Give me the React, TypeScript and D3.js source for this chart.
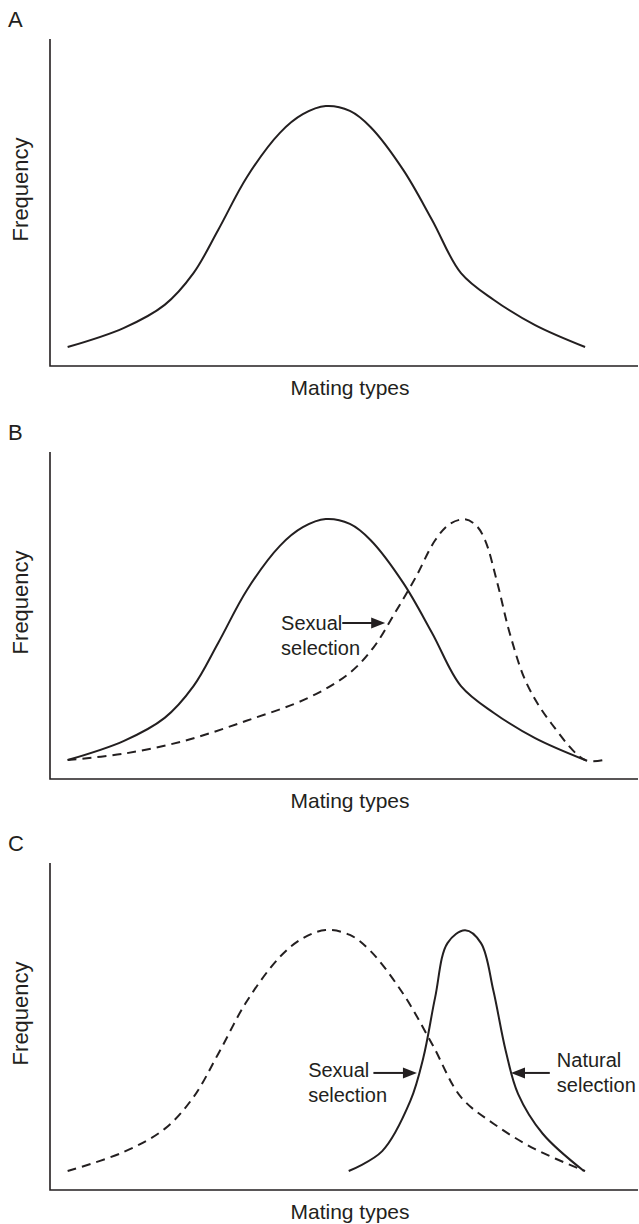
import React, { useEffect, useRef } from 'react';
import * as d3 from 'd3';

type Pt = [number, number];

// [mating type (0-100 along the axis), frequency (0-100 up the axis)]
const wideCurve: Pt[] = [
  [3, 5.8], [12.5, 11.6], [19.5, 18.7], [24.4, 28.4], [28.6, 41.6], [33.5, 57.8],
  [39.1, 71.3], [43, 77], [46.9, 79.5], [51, 78], [54.5, 73.1], [60.1, 59.9],
  [65, 44.6], [69.9, 28.4], [75.5, 20.2], [82.5, 12.5], [91, 5.8],
];

const shiftedCurve: Pt[] = [
  [3, 5.8], [12.4, 7.7], [22.9, 11.7], [33.4, 17.8], [43.9, 24.8], [50.8, 32.2],
  [55, 40.2], [58.6, 50.6], [62.2, 61.7], [65.5, 73], [68, 78], [70.6, 79.4],
  [72.5, 77.5], [74, 73], [76.1, 59.8], [78.2, 44.5], [81.1, 29.1], [85.3, 16.9],
  [91, 5.8], [94.1, 5.8],
];

const narrowCurve: Pt[] = [
  [50.8, 5.8], [56.5, 11.9], [61.3, 27.3], [63.5, 40.5], [65.5, 58.9], [67.6, 75.5],
  [70.6, 79.4], [73.3, 75.5], [75.4, 61], [77.5, 42.6], [79.6, 29.4], [83.8, 17.2],
  [90.8, 5.8],
];

const panelLabels = ['A', 'B', 'C'];
const xTitle = 'Mating types';
const yTitle = 'Frequency';

interface Note {
  lines: string[];
  text: Pt;
  from: Pt;
  to: Pt;
}

interface Panel {
  label: string;
  top: number;
  curves: { pts: Pt[]; dashed: boolean }[];
  notes: Note[];
}

const panels: Panel[] = [
  { label: panelLabels[0], top: 0, curves: [{ pts: wideCurve, dashed: false }], notes: [] },
  {
    label: panelLabels[1],
    top: 413,
    curves: [
      { pts: wideCurve, dashed: false },
      { pts: shiftedCurve, dashed: true },
    ],
    notes: [
      { lines: ['Sexual', 'selection'], text: [39.3, 45.6], from: [49.7, 47.7], to: [57, 47.7] },
    ],
  },
  {
    label: panelLabels[2],
    top: 824,
    curves: [
      { pts: wideCurve, dashed: true },
      { pts: narrowCurve, dashed: false },
    ],
    notes: [
      { lines: ['Sexual', 'selection'], text: [43.9, 34.6], from: [55, 35.8], to: [62.4, 35.8] },
      { lines: ['Natural', 'selection'], text: [86.2, 37.6], from: [85, 35.8], to: [78.4, 35.8] },
    ],
  },
];

const INK = '#231f20';
const FONT = '"Liberation Sans", Arial, Helvetica, sans-serif';

const App: React.FC = () => {
  const ref = useRef<SVGSVGElement | null>(null);

  useEffect(() => {
    const svg = d3.select(ref.current);
    svg.selectAll('*').remove();

    const x = d3.scaleLinear().domain([0, 100]).range([50, 638]);
    const y = d3.scaleLinear().domain([0, 100]).range([366, 39]);

    const line = d3
      .line<Pt>()
      .x(d => x(d[0]))
      .y(d => y(d[1]))
      .curve(d3.curveCatmullRom.alpha(0.5));

    panels.forEach(p => {
      const g = svg.append('g').attr('transform', `translate(0,${p.top})`);

      // panel letter
      g.append('text')
        .attr('x', 8)
        .attr('y', 27)
        .attr('font-size', 22)
        .attr('font-family', FONT)
        .attr('fill', INK)
        .text(p.label);

      // axes
      g.append('path')
        .attr('d', `M${x(0)},${y(100)}V${y(0)}H${x(100)}`)
        .attr('fill', 'none')
        .attr('stroke', INK)
        .attr('stroke-width', 1.6);

      g.append('text')
        .attr('x', (x(0) + x(100)) / 2 + 6)
        .attr('y', y(0) + 29)
        .attr('text-anchor', 'middle')
        .attr('font-size', 21)
        .attr('font-family', FONT)
        .attr('fill', INK)
        .text(xTitle);

      g.append('text')
        .attr('transform', `translate(28,${y(54)}) rotate(-90)`)
        .attr('text-anchor', 'middle')
        .attr('font-size', 22)
        .attr('font-family', FONT)
        .attr('fill', INK)
        .text(yTitle);

      p.curves.forEach(c => {
        g.append('path')
          .attr('d', line(c.pts) || '')
          .attr('fill', 'none')
          .attr('stroke', INK)
          .attr('stroke-width', 2)
          .attr('stroke-dasharray', c.dashed ? '9,6' : null);
      });

      p.notes.forEach(n => {
        const t = g.append('text')
          .attr('font-size', 20)
          .attr('font-family', FONT)
          .attr('fill', INK);
        n.lines.forEach((s, i) => {
          t.append('tspan')
            .attr('x', x(n.text[0]))
            .attr('y', y(n.text[1]) + i * 25)
            .text(s);
        });

        const x0 = x(n.from[0]);
        const x1 = x(n.to[0]);
        const yy = y(n.to[1]);
        const dir = Math.sign(x1 - x0);
        const head = 14;
        g.append('line')
          .attr('x1', x0)
          .attr('y1', yy)
          .attr('x2', x1 - dir * head + dir)
          .attr('y2', yy)
          .attr('stroke', INK)
          .attr('stroke-width', 2);
        g.append('path')
          .attr('d', `M${x1},${yy}L${x1 - dir * head},${yy - 5.5}L${x1 - dir * head},${yy + 5.5}Z`)
          .attr('fill', INK);
      });
    });
  }, []);

  return (
    <svg
      ref={ref}
      width={639}
      height={1224}
      style={{ position: 'absolute', left: 0, top: 0, background: '#fff' }}
    />
  );
};

export default App;
